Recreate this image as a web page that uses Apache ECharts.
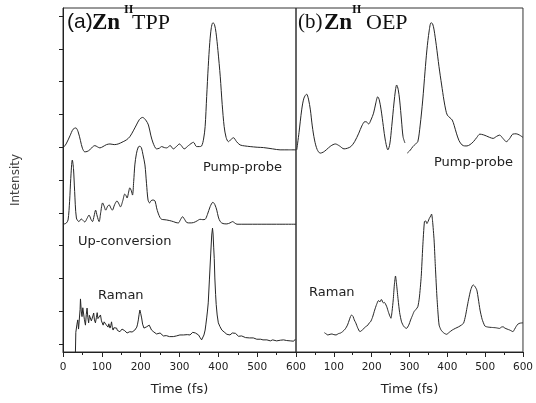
<!DOCTYPE html>
<html>
<head>
<meta charset="utf-8">
<script src="https://cdn.jsdelivr.net/npm/echarts@6.0.0/dist/echarts.min.js"></script>
<style>
html,body{margin:0;padding:0;background:#fff;}
#chart{width:536px;height:403px;}
</style>
</head>
<body>
<div id="chart"></div>
<script>
// ---- data: [time (fs), intensity (offset units)] ----
var xTicks = [0, 100, 200, 300, 400, 500, 600];
var yTickValues = [0.25, 1.25, 2.25, 3.25, 4.25, 5.25, 6.25, 7.25, 8.25, 9.25, 10.25];

var tppPumpProbe = [
  [0,6.23],[8,6.35],[18,6.6],[26,6.8],[33,6.84],[39,6.72],[45,6.45],[50,6.22],[56,6.11],[62,6.12],
  [69,6.17],[76,6.26],[82,6.30],[89,6.26],[95,6.23],[103,6.27],[112,6.33],[121,6.35],[132,6.33],
  [142,6.35],[155,6.42],[164,6.48],[172,6.57],[181,6.75],[189,6.93],[197,7.10],[205,7.16],
  [213,7.08],[220,6.93],[226,6.62],[232,6.38],[241,6.20],[248,6.22],[254,6.27],[261,6.24],
  [267,6.23],[276,6.30],[284,6.20],[292,6.27],[300,6.35],[306,6.28],[312,6.20],[323,6.30],
  [336,6.40],[344,6.27],[351,6.27],[357,6.29],[362,6.5],[366,6.88],[370,7.8],[374,8.71],
  [378,9.45],[382,9.9],[386,10.05],[390,10.0],[394,9.75],[399,9.2],[405,8.40],[410,7.55],
  [415,6.88],[420,6.55],[426,6.42],[432,6.48],[439,6.54],[447,6.42],[456,6.32],[468,6.29],
  [482,6.27],[500,6.25],[516,6.24],[540,6.20],[559,6.17],[580,6.17],[600,6.17]
];

var tppUpConversion = [
  [0,3.90],[8,3.93],[13,4.03],[17,4.6],[20,5.3],[24,5.86],[27,5.6],[30,4.9],[34.5,4.09],
  [41,3.98],[47,4.06],[56,3.97],[62,4.08],[67,4.18],[72,4.05],[76,3.98],[80,4.15],[84,4.33],
  [88,4.15],[93,3.98],[97,4.25],[102,4.55],[106,4.45],[110,4.33],[115,4.45],[119,4.49],
  [123,4.40],[127,4.33],[133,4.50],[139,4.61],[144,4.52],[148,4.43],[154,4.62],[159,4.82],
  [162,4.78],[165,4.70],[169,4.88],[172,5.01],[176,4.92],[179,4.79],[182,5.2],[185,5.71],
  [189,6.05],[194,6.26],[198,6.28],[202,6.23],[206,6.02],[211,5.71],[215,5.15],[219,4.64],
  [223,4.55],[227,4.62],[232,4.64],[237,4.61],[241,4.40],[245,4.24],[250,4.10],[254,4.05],
  [260,4.04],[267,4.03],[275,4.01],[284,3.98],[291,3.95],[297,3.94],[303,4.05],[308,4.13],
  [313,4.05],[319,3.95],[327,3.94],[336,3.95],[345,4.0],[353,4.05],[360,4.04],[366,4.05],
  [372,4.2],[379,4.44],[386,4.57],[391,4.50],[396,4.33],[400,4.12],[405,3.98],[412,3.92],
  [422,3.91],[430,3.94],[437,3.98],[442,3.94],[448,3.90],[500,3.90],[550,3.90],[600,3.90]
];

var tppRaman = [
  [32,0.0],[33,0.6],[34.6,0.62],[36,0.85],[38,0.98],[40,0.70],[42,0.76],[44,1.3],[45,1.62],
  [47,1.25],[49,1.08],[51,1.35],[53,1.40],[55,1.0],[57.8,0.82],[60,1.15],[62,1.34],[64,1.05],
  [66,0.89],[68,1.12],[70.5,1.08],[73,0.95],[75,0.92],[77,1.10],[79,1.19],[81,0.98],[83.5,0.89],
  [86,1.05],[88,1.20],[90,1.02],[92,0.98],[94,1.08],[96.5,1.13],[99,0.95],[101,0.90],[103.4,0.82],
  [106,0.92],[108,0.98],[110,0.85],[112,0.89],[114,0.80],[116,0.76],[118,0.86],[121,0.73],
  [123,0.80],[125,0.92],[127,0.75],[129,0.67],[131,0.74],[133,0.76],[136,0.70],[138,0.73],
  [140,0.66],[142,0.61],[144,0.68],[146.5,0.62],[149,0.66],[152,0.70],[155,0.64],[159,0.65],
  [162,0.62],[165,0.58],[168,0.64],[172,0.62],[175,0.58],[178,0.61],[181,0.66],[185,0.67],
  [188,0.70],[190,0.76],[192,0.85],[194,0.98],[196,1.15],[198,1.28],[200,1.18],[202.5,1.04],
  [205,0.85],[208.5,0.73],[212,0.78],[215.5,0.77],[219,0.74],[222,0.82],[225,0.78],[228,0.67],
  [231,0.64],[234,0.61],[237,0.60],[241,0.55],[245,0.58],[250,0.58],[254,0.52],[258.5,0.49],
  [263,0.54],[266,0.50],[270,0.52],[274,0.47],[278,0.51],[284,0.47],[288,0.52],[292,0.49],
  [296,0.53],[301,0.52],[305,0.48],[310,0.52],[315,0.49],[320,0.53],[324,0.50],[327,0.52],
  [331,0.55],[334,0.60],[338,0.64],[341,0.58],[345,0.55],[349,0.52],[353,0.44],[357,0.37],
  [360,0.43],[363,0.52],[366,0.67],[368,0.85],[370,1.04],[372,1.25],[374,1.50],[377,2.20],
  [380.5,3.02],[383,3.57],[385,3.78],[386.5,3.60],[388,3.20],[389.5,2.85],[391,2.26],
  [393,1.75],[394.5,1.45],[397,1.13],[400,0.89],[404,0.78],[409,0.67],[412,0.63],[415,0.61],
  [418,0.58],[422,0.54],[426,0.56],[430,0.52],[433,0.56],[436,0.58],[438,0.62],[441,0.62],
  [444,0.57],[448,0.52],[452,0.48],[456,0.46],[460,0.49],[465,0.47],[470,0.44],[475,0.46],
  [480,0.43],[485,0.41],[490,0.43],[495,0.40],[499,0.39],[504,0.36],[509,0.39],[515,0.37],
  [520,0.34],[525,0.37],[530,0.33],[534,0.34],[540,0.37],[545,0.33],[550,0.34],[555,0.31],
  [560,0.36],[564,0.33],[568,0.37],[572,0.32],[576,0.35],[580,0.38],[585,0.34],[590,0.37],
  [594,0.33],[598,0.39]
];

var oepPumpProbe = [
  [2,6.17],[8,6.7],[15,7.39],[21,7.75],[28,7.87],[33,7.72],[38,7.39],[43,6.9],[49,6.47],
  [56,6.18],[64,6.07],[72,6.10],[80,6.17],[92,6.29],[104,6.35],[115,6.29],[127,6.20],
  [136,6.22],[145,6.27],[155,6.42],[166,6.68],[174,6.90],[182,7.03],[187,7.02],[192,6.96],
  [198,7.08],[205,7.29],[211,7.60],[216,7.79],[220,7.70],[225,7.39],[231,6.88],[236,6.47],
  [243,6.17],[248,6.35],[253,6.88],[259,7.60],[263,8.00],[266,8.15],[270,8.02],[274,7.69],
  [279,7.05],[283,6.57],[288,6.38],[291,null],[294,6.07],[302,6.16],[309,6.27],[316,6.35],
  [322,6.42],[328,6.9],[335,7.69],[341,8.55],[346,9.22],[352,9.80],[357,10.05],[361,10.02],
  [365,9.83],[371,9.35],[378,8.71],[385,8.15],[391,7.69],[396,7.38],[400,7.23],[407,7.15],
  [413,7.08],[418,6.92],[424,6.68],[431,6.45],[439,6.32],[446,6.29],[452,6.29],[460,6.33],
  [469,6.42],[478,6.55],[486,6.65],[495,6.63],[504,6.59],[512,6.55],[521,6.52],[530,6.58],
  [538,6.62],[547,6.52],[556,6.42],[565,6.52],[573,6.65],[582,6.66],[591,6.62],[600,6.55]
];

var oepRaman = [
  [75,0.59],[80,0.55],[84,0.52],[90,0.54],[95,0.55],[100,0.53],[106,0.52],[112,0.56],
  [118,0.58],[123,0.62],[130,0.70],[136,0.82],[141,0.98],[144,1.08],[147,1.13],[151,1.08],
  [154,0.98],[158,0.89],[163,0.74],[169,0.62],[176,0.68],[184,0.77],[190,0.82],[193,0.88],
  [197,0.92],[202,1.05],[208,1.28],[213,1.45],[218,1.57],[222,1.53],[225,1.60],[227,1.59],
  [229,1.52],[231,1.50],[233,1.52],[235.5,1.49],[240,1.38],[244,1.23],[248,1.10],[251,1.03],
  [254,1.25],[257,1.59],[260,2.05],[263,2.32],[266,2.05],[270,1.59],[274,1.20],[279,0.92],
  [285,0.78],[292,0.72],[298,0.82],[303,0.98],[308,1.12],[312,1.23],[317,1.30],[322,1.38],
  [326,1.65],[331,2.30],[335,3.20],[339.5,3.98],[343,4.00],[346,3.92],[349,3.98],[352.5,4.08],
  [356,4.15],[358.4,4.21],[361,4.00],[365,3.42],[368,2.70],[372,1.79],[375,1.25],[378.3,0.82],
  [383,0.68],[387,0.62],[392,0.57],[398,0.54],[405,0.60],[413,0.67],[421,0.72],[430,0.77],
  [437,0.82],[443,0.88],[448,1.10],[452,1.35],[456,1.59],[462,1.90],[468,2.05],[473,2.00],
  [478,1.89],[482,1.62],[486.5,1.28],[492,1.00],[499.5,0.79],[508,0.76],[517,0.75],[528,0.74],
  [538,0.72],[543,0.76],[547.5,0.77],[552,0.73],[558,0.70],[565,0.67],[570,0.64],[573.5,0.62],
  [578,0.70],[582,0.78],[586.5,0.85],[592,0.88],[600,0.89]
];

var lineColor = '#262626';
var fontSans = 'DejaVu Sans';

function xAxisCfg(gi, hideZero) {
  return {
    type: 'value', gridIndex: gi, min: 0, max: 600, interval: 100,
    axisLine: { show: true, onZero: false, lineStyle: { color: '#222', width: 1 } },
    axisTick: { show: true, inside: false, length: 5, lineStyle: { color: '#222' } },
    minorTick: { show: true, splitNumber: 2, length: 3, lineStyle: { color: '#222' } },
    splitLine: { show: false },
    axisLabel: {
      color: '#222', fontFamily: fontSans, fontSize: 10.5, margin: 10,
      formatter: function (v) { return (hideZero && v === 0) ? '' : String(v); }
    },
    name: 'Time (fs)', nameLocation: 'middle', nameGap: 31,
    nameTextStyle: { color: '#222', fontFamily: fontSans, fontSize: 13 }
  };
}

function lineSeries(data, xi, smooth) {
  return {
    type: 'line', xAxisIndex: xi, yAxisIndex: xi, data: data,
    showSymbol: false, symbol: 'none', smooth: smooth, connectNulls: false,
    lineStyle: { color: lineColor, width: 1 }, silent: true, animation: false
  };
}

function txt(x, y, text, size, family, weight, color) {
  return {
    type: 'text', left: x, top: y, silent: true,
    style: {
      text: text, fontSize: size, fontFamily: family, fontWeight: weight || 'normal',
      fill: color || '#222'
    }
  };
}

var chart = echarts.init(document.getElementById('chart'), null, { renderer: 'canvas' });
chart.setOption({
  animation: false,
  backgroundColor: '#fff',
  grid: [
    { left: 63, top: 8, width: 233, height: 344, show: true, borderColor: '#333', borderWidth: 1, backgroundColor: 'transparent' },
    { left: 296, top: 8, width: 232, height: 344, show: true, borderColor: '#333', borderWidth: 1, backgroundColor: 'transparent' }
  ],
  xAxis: [xAxisCfg(0, false), xAxisCfg(1, true)],
  yAxis: [
    {
      type: 'value', gridIndex: 0, min: 0, max: 10.5,
      axisLine: { show: true, lineStyle: { color: '#222' } },
      axisTick: { show: true, inside: false, length: 4, customValues: yTickValues, lineStyle: { color: '#222' } },
      axisLabel: { show: false },
      splitLine: { show: false },
      name: 'Intensity', nameLocation: 'middle', nameGap: 41, nameRotate: 90,
      nameTextStyle: { color: '#444', fontFamily: fontSans, fontSize: 12 }
    },
    {
      type: 'value', gridIndex: 1, min: 0, max: 10.5,
      axisLine: { show: false }, axisTick: { show: false }, axisLabel: { show: false }, splitLine: { show: false }
    }
  ],
  series: [
    lineSeries(tppPumpProbe, 0, 0.3),
    lineSeries(tppUpConversion, 0, 0.3),
    lineSeries(tppRaman, 0, false),
    lineSeries(oepPumpProbe, 1, 0.3),
    lineSeries(oepRaman, 1, 0.2)
  ],
  graphic: [
    txt(67, 12, '(a)', 21, 'Liberation Sans', 'normal', '#111'),
    txt(92, 12, 'Zn', 23, 'Liberation Serif', 'bold', '#111'),
    txt(124, 4, 'II', 12, 'Liberation Serif', 'bold', '#111'),
    txt(132, 12, 'TPP', 22, 'Liberation Serif', 'normal', '#111'),
    txt(298, 12, '(b)', 21, 'Liberation Serif', 'normal', '#111'),
    txt(324, 12, 'Zn', 23, 'Liberation Serif', 'bold', '#111'),
    txt(352, 4, 'II', 12, 'Liberation Serif', 'bold', '#111'),
    txt(366, 12, 'OEP', 22, 'Liberation Serif', 'normal', '#111'),
    txt(203, 161, 'Pump-probe', 13, fontSans, 'normal', '#222'),
    txt(78, 235, 'Up-conversion', 13, fontSans, 'normal', '#222'),
    txt(98, 289, 'Raman', 13, fontSans, 'normal', '#222'),
    txt(434, 156, 'Pump-probe', 13, fontSans, 'normal', '#222'),
    txt(309, 286, 'Raman', 13, fontSans, 'normal', '#222')
  ]
});
</script>
</body>
</html>
